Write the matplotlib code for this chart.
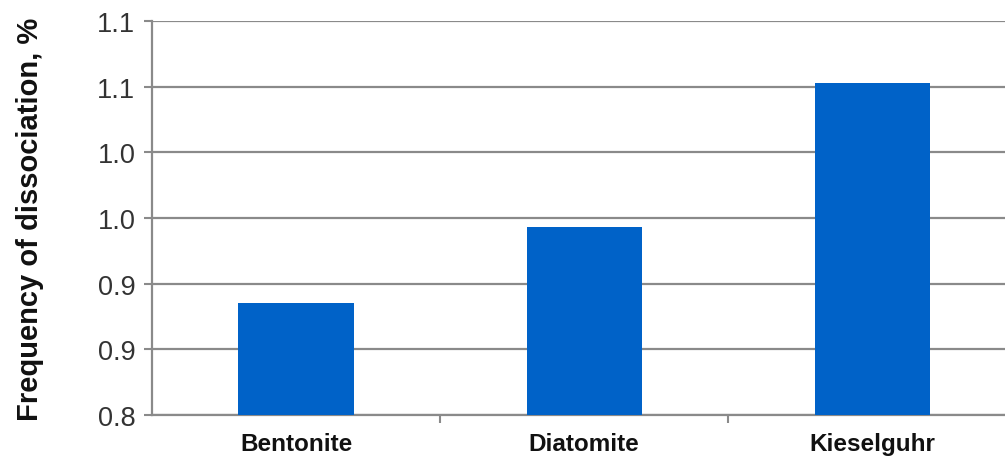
import matplotlib.pyplot as plt
import numpy as np

plt.rcParams['font.family'] = ['Liberation Sans', 'DejaVu Sans']

categories = ['Bentonite', 'Diatomite', 'Kieselguhr']
values = [0.885, 0.943, 1.053]
yticks = [0.80, 0.85, 0.90, 0.95, 1.00, 1.05, 1.10]
ytick_labels = ['0.8', '0.9', '0.9', '1.0', '1.0', '1.1', '1.1']

fig = plt.figure(figsize=(10.05, 4.64), dpi=100)
ax = fig.add_axes([0.1512, 0.1034, 0.8488, 0.8492])

x = np.arange(len(categories))
ax.bar(x, values, width=0.4, color='#0062C8', zorder=3)

ax.set_ylim(0.8, 1.1)
ax.set_xlim(-0.5, 2.46)
ax.set_yticks(yticks)
ax.set_yticklabels(ytick_labels, fontsize=19.5, color='#333333')
ax.yaxis.grid(True, color='#8a8a8a', linewidth=1.6, zorder=0)

ax.set_xticks(x)
ax.set_xticklabels(categories, fontsize=17.5, fontweight='bold', color='#111111')
ax.tick_params(axis='x', length=0, pad=12)
ax.tick_params(axis='y', length=6, width=1.5, color='#8a8a8a', pad=6)
# category separator ticks
ax.set_xticks([0.5, 1.5], minor=True)
ax.tick_params(axis='x', which='minor', length=6, width=1.5, color='#8a8a8a')

for s in ['top', 'right']:
    ax.spines[s].set_visible(False)
for s in ['left', 'bottom']:
    ax.spines[s].set_color('#8a8a8a')
    ax.spines[s].set_linewidth(1.6)

ax.set_ylabel('Frequency of dissociation, %', fontsize=21, fontweight='bold',
              color='#111111')
ax.yaxis.set_label_coords(-0.126, 0.5)

fig.savefig('out.png', dpi=100)
